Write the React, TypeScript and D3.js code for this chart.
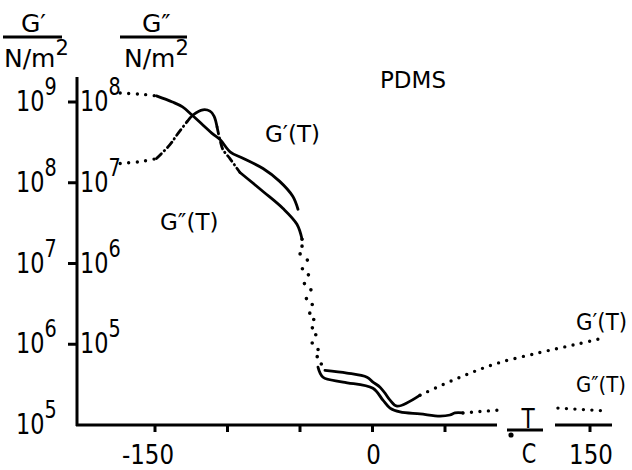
import React from "react";
import * as d3 from "d3";

// ---- data (temperature in °C, moduli in N/m²) ----
const tempTicks = [-150, -100, -50, 0, 50, 150];
const tempTickLabels = ["-150", "0", "150"];
const tempLabelValues = [-150, 0, 150];
const storageDecades = [1e9, 1e8, 1e7, 1e6, 1e5];
const storageExponents = ["9", "8", "7", "6", "5"];
const lossDecades = [1e8, 1e7, 1e6, 1e5];
const lossExponents = ["8", "7", "6", "5"];

const storageGlassyDotted: [number, number][] = [[-174, 1.29e9], [-160, 1.25e9], [-149, 1.19e9]];
const storageGlassySolid: [number, number][] = [
  [-149, 1.19e9], [-138, 1.0e9], [-131, 8.7e8], [-124.5, 6.9e8], [-117, 5.2e8], [-110, 4.0e8],
  [-105, 3.4e8], [-98, 2.4e8], [-89, 2.0e8], [-75.5, 1.5e8], [-64, 1.04e8], [-55, 6.8e7], [-51.4, 4.7e7],
];
const storageTransitionDotted: [number, number][] = [
  [-48.6, 1.64e7], [-45.2, 1.17e7], [-44.5, 7.9e6], [-42.4, 4.6e6], [-41, 2.4e6], [-38.3, 1.05e6],
  [-35.5, 5.8e5], [-32.8, 4.75e5],
];
const storageRubberySolid: [number, number][] = [
  [-32.8, 4.75e5], [-17.6, 4.4e5], [-3.8, 3.9e5], [0.3, 3.4e5], [5.2, 2.94e5], [8.6, 2.48e5],
  [12.1, 2.03e5], [16.9, 1.71e5], [32.8, 2.34e5],
];
const storageMeltDotted: [number, number][] = [
  [32.8, 2.34e5], [60.3, 3.9e5], [85.9, 5.8e5], [115.5, 7.9e5], [139.7, 9.9e5], [160.3, 1.21e6],
];

const lossGlassyDotted: [number, number][] = [[-174, 1.73e7], [-160, 1.83e7], [-149, 1.99e7]];
const lossRiseDashDot: [number, number][] = [[-149, 1.99e7], [-139.7, 2.96e7], [-134.8, 3.93e7], [-127.9, 5.7e7]];
const lossPeakSolid: [number, number][] = [
  [-127.9, 5.7e7], [-123.8, 6.9e7], [-116.9, 8.0e7], [-112.1, 7.7e7], [-109.3, 6.7e7], [-107.2, 4.9e7],
];
const lossFallDashDot: [number, number][] = [
  [-107.2, 4.9e7], [-105.2, 3.4e7], [-103.1, 2.57e7], [-98.3, 1.99e7], [-93.4, 1.5e7], [-91.4, 1.34e7],
];
const lossTransitionSolid: [number, number][] = [
  [-91.4, 1.34e7], [-75.5, 7.8e6], [-61.7, 4.8e6], [-52.1, 3.06e6], [-48.6, 2.0e6],
];
const lossTransitionDotted: [number, number][] = [
  [-48.6, 2.0e6], [-50, 1.43e6], [-48.6, 9.3e5], [-47.2, 6.1e5], [-45.2, 3.36e5], [-41.7, 1.8e5],
  [-41, 8.4e4], [-37.6, 6.7e4], [-37.6, 5.2e4],
];
const lossRubberySolid: [number, number][] = [
  [-37.6, 5.2e4], [-34.1, 3.9e4], [-20.3, 3.4e4], [0.3, 2.85e4], [7.2, 2.03e4], [12.1, 1.62e4],
  [19, 1.45e4], [32.8, 1.37e4], [46.6, 1.29e4], [53.4, 1.33e4], [56.9, 1.41e4], [62.4, 1.41e4],
];
const lossMeltDotted: [number, number][] = [[62.4, 1.41e4], [86.6, 1.53e4]];
const lossHighDotted: [number, number][] = [[127.9, 1.62e4], [161.7, 1.49e4]];

const FONT = "DejaVu Sans";
const SX = 0.8;

function SText(props: { x: number; y: number; size: number; anchor?: string; children: React.ReactNode }) {
  const { x, y, size, anchor, children } = props;
  return (
    <text
      transform={`translate(${x},${y}) scale(${SX},1)`}
      fontSize={size}
      fontFamily={FONT}
      textAnchor={anchor || "start"}
      fill="#000"
    >
      {children}
    </text>
  );
}

export default function App() {
  const x = d3.scaleLinear().domain([-150, 150]).range([155, 590]);
  const yS = d3.scaleLog().domain([1e5, 1e9]).range([425, 102]);
  const yL = d3.scaleLog().domain([1e4, 1e8]).range([425, 102]);

  const lineS = d3.line<[number, number]>().x((d) => x(d[0])).y((d) => yS(d[1])).curve(d3.curveCatmullRom);
  const lineL = d3.line<[number, number]>().x((d) => x(d[0])).y((d) => yL(d[1])).curve(d3.curveCatmullRom);

  const solid = { fill: "none", stroke: "#000", strokeWidth: 2.8, strokeLinecap: "round" as const, strokeLinejoin: "round" as const };
  const dotted = { fill: "none", stroke: "#000", strokeWidth: 3.4, strokeLinecap: "round" as const, strokeDasharray: "0 8.5" };
  const sparse = { fill: "none", stroke: "#000", strokeWidth: 3.6, strokeLinecap: "round" as const, strokeDasharray: "0 15" };
  const dashDot = { fill: "none", stroke: "#000", strokeWidth: 2.8, strokeLinecap: "round" as const, strokeDasharray: "7 4 0.5 4" };

  const axisX0 = 77;
  const axisY0 = yS(1e5);

  return (
    <svg width={632} height={470} style={{ position: "absolute", left: 0, top: 0, background: "#fff" }}>
      <rect width={632} height={470} fill="#fff" />
      {/* headers */}
      <text x={21} y={32} fontSize={25} fontFamily={FONT}>G′</text>
      <line x1={3} x2={62} y1={37} y2={37} stroke="#000" strokeWidth={3} />
      <text x={4} y={67} fontSize={25} fontFamily={FONT}>N/m<tspan dy={-12} fontSize={21}>2</tspan></text>
      <text x={142} y={32} fontSize={25} fontFamily={FONT}>G″</text>
      <line x1={120} x2={187} y1={37} y2={37} stroke="#000" strokeWidth={3} />
      <text x={124} y={67} fontSize={25} fontFamily={FONT}>N/m<tspan dy={-12} fontSize={21}>2</tspan></text>

      {/* y axis */}
      <line x1={axisX0} x2={axisX0} y1={77} y2={axisY0 + 1} stroke="#000" strokeWidth={3} />
      {storageDecades.slice(0, 4).map((v) => (
        <line key={"yt" + v} x1={68} x2={axisX0} y1={yS(v)} y2={yS(v)} stroke="#000" strokeWidth={3} />
      ))}
      {storageDecades.map((v, i) => (
        <SText key={"ls" + v} x={16} y={yS(v) + 9} size={28}>
          10<tspan dy={-16} fontSize={24}>{storageExponents[i]}</tspan>
        </SText>
      ))}
      {lossDecades.map((v, i) => (
        <SText key={"ll" + v} x={80} y={yL(v) + 9} size={28}>
          10<tspan dy={-16} fontSize={24}>{lossExponents[i]}</tspan>
        </SText>
      ))}

      {/* x axis */}
      <line x1={axisX0 - 1} x2={497} y1={axisY0} y2={axisY0} stroke="#000" strokeWidth={3} />
      <line x1={555} x2={612} y1={axisY0} y2={axisY0} stroke="#000" strokeWidth={3} />
      {tempTicks.map((t) => (
        <line key={"xt" + t} x1={x(t)} x2={x(t)} y1={axisY0} y2={axisY0 + 7} stroke="#000" strokeWidth={3} />
      ))}
      {tempLabelValues.map((t, i) => (
        <text
          key={"xlt" + t}
          transform={`translate(${x(t) + (t < 0 ? -7 : 1)},464) scale(0.85,1)`}
          fontSize={27}
          fontFamily={FONT}
          textAnchor="middle"
        >
          {tempTickLabels[i]}
        </text>
      ))}
      {/* unit T / °C */}
      <SText x={528} y={428} size={27} anchor="middle">T</SText>
      <line x1={507} x2={543} y1={430} y2={430} stroke="#000" strokeWidth={3} />
      <circle cx={511} cy={435} r={2.6} fill="#000" />
      <SText x={529} y={463} size={26} anchor="middle">C</SText>

      {/* storage modulus G'(T) */}
      <path d={lineS(storageGlassyDotted) || ""} {...dotted} />
      <path d={lineS(storageGlassySolid) || ""} {...solid} />
      <path d={lineS(storageTransitionDotted) || ""} {...sparse} />
      <path d={lineS(storageRubberySolid) || ""} {...solid} />
      <path d={lineS(storageMeltDotted) || ""} {...dotted} />

      {/* loss modulus G''(T) */}
      <path d={lineL(lossGlassyDotted) || ""} {...dotted} />
      <path d={lineL(lossRiseDashDot) || ""} {...dashDot} />
      <path d={lineL(lossPeakSolid) || ""} {...solid} />
      <path d={lineL(lossFallDashDot) || ""} {...dashDot} />
      <path d={lineL(lossTransitionSolid) || ""} {...solid} />
      <path d={lineL(lossTransitionDotted) || ""} {...sparse} />
      <path d={lineL(lossRubberySolid) || ""} {...solid} />
      <path d={lineL(lossMeltDotted) || ""} {...dotted} />
      <path d={lineL(lossHighDotted) || ""} {...dotted} />

      {/* labels */}
      <text x={380} y={88} fontSize={23} fontFamily={FONT}>PDMS</text>
      <text x={265} y={142} fontSize={23} fontFamily={FONT}>G′(T)</text>
      <text x={160} y={230} fontSize={23} fontFamily={FONT}>G″(T)</text>
      <text x={576} y={330} fontSize={23} fontFamily={FONT} textLength={51} lengthAdjust="spacingAndGlyphs">G′(T)</text>
      <text x={576} y={392} fontSize={22} fontFamily={FONT} textLength={50} lengthAdjust="spacingAndGlyphs">G″(T)</text>
    </svg>
  );
}
